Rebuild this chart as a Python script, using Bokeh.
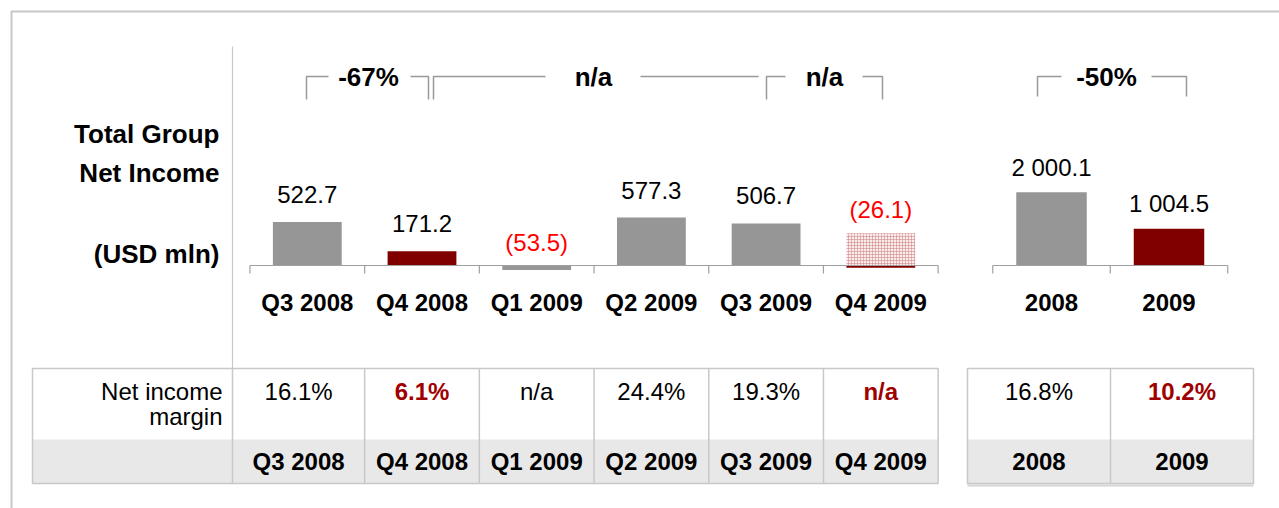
from bokeh.plotting import figure
from bokeh.models import Range1d
from bokeh.core.properties import value
from bokeh.embed import file_html
from bokeh.resources import INLINE

# ---------------- data ----------------
quarters = ["Q3 2008", "Q4 2008", "Q1 2009", "Q2 2009", "Q3 2009", "Q4 2009"]
net_income_q = [522.7, 171.2, -53.5, 577.3, 506.7, -26.1]
hatched_q = [0.0, 0.0, 0.0, 0.0, 0.0, 390.0]
highlight_q = [False, True, False, False, False, True]
margin_q = ["16.1%", "6.1%", "n/a", "24.4%", "19.3%", "n/a"]

years = ["2008", "2009"]
net_income_y = [2000.1, 1004.5]
highlight_y = [False, True]
margin_y = ["16.8%", "10.2%"]

change_labels = ["-67%", "n/a", "n/a", "-50%"]
title_lines = ["Total Group", "Net Income", "(USD mln)"]
row_label = ["Net income", "margin"]

# ---------------- styles ----------------
FONT = value("Liberation Sans")
GRAY = "#969696"
DARK_RED = "#800000"
RED = "#ff0000"
TBL_RED = "#a00000"
LINE = "#c8c8c8"
AXIS = "#a0a0a0"

W, H = 1279, 508
X0, Y0 = 0, 0

p = figure(width=W, height=H, x_range=Range1d(X0, X0 + W), y_range=Range1d(Y0 + H, Y0),
           output_backend="svg", toolbar_location=None, min_border=0,
           x_axis_location=None, y_axis_location=None, outline_line_color=None,
           background_fill_color="white", border_fill_color="white")
p.grid.visible = False

# scales for the two bar panels (screen px anchors)
Q_CX0, Q_DX, Q_BASE, Q_K = 306.8, 114.7, 265.0, 0.083
A_CX0, A_DX, A_BASE, A_K = 1051.0, 117.5, 265.0, 0.0366

p.extra_x_ranges = {
    "qx": Range1d((X0 - Q_CX0) / Q_DX, (X0 + W - Q_CX0) / Q_DX),
    "ax": Range1d((X0 - A_CX0) / A_DX, (X0 + W - A_CX0) / A_DX),
}
p.extra_y_ranges = {
    "qy": Range1d((Q_BASE - (Y0 + H)) / Q_K, (Q_BASE - Y0) / Q_K),
    "ay": Range1d((A_BASE - (Y0 + H)) / A_K, (A_BASE - Y0) / A_K),
}


def fmt(v):
    s = f"{abs(v):,.1f}".replace(",", " ")
    return f"({s})" if v < 0 else s


# ---------------- outer frame ----------------
p.line(x=[11, 11, 1290], y=[520, 11, 11], line_color=LINE, line_width=2)
p.segment(x0=[232], y0=[46], x1=[232], y1=[368], line_color=LINE, line_width=1.2)

# ---------------- titles ----------------
p.text(x=[219] * 3, y=[133, 172, 253], text=title_lines, text_font=FONT,
       text_font_style="bold", text_font_size="26px", text_align="right",
       text_baseline="middle", text_color="black")

# ---------------- quarterly bars ----------------
qi = list(range(len(quarters)))
q_colors = [DARK_RED if h else GRAY for h in highlight_q]
hi = [i for i in qi if hatched_q[i] > 0]
p.vbar(x=hi, top=[hatched_q[i] for i in hi], bottom=0, width=0.6,
       x_range_name="qx", y_range_name="qy", fill_color="#f9eded",
       hatch_pattern="cross", hatch_color="#cc7a7a", hatch_scale=3,
       hatch_weight=0.6, hatch_alpha=0.85, line_color=None)
p.vbar(x=qi, top=net_income_q, bottom=0, width=0.6, x_range_name="qx",
       y_range_name="qy", fill_color=q_colors, line_color=None)

pos = [i for i in qi if net_income_q[i] >= 0 and hatched_q[i] == 0]
neg = [i for i in qi if i not in pos]
p.text(x=pos, y=[net_income_q[i] for i in pos], text=[fmt(net_income_q[i]) for i in pos],
       x_range_name="qx", y_range_name="qy", y_offset=-27.5, text_font=FONT,
       text_font_size="24px", text_align="center", text_baseline="middle",
       text_color="black")
p.text(x=neg, y=[max(net_income_q[i], hatched_q[i], 0) for i in neg],
       text=[fmt(net_income_q[i]) for i in neg],
       x_range_name="qx", y_range_name="qy", y_offset=-23.5, text_font=FONT,
       text_font_size="24px", text_align="center", text_baseline="middle",
       text_color=[RED if net_income_q[i] < 0 else "black" for i in neg])
p.text(x=qi, y=[0] * len(qi), text=quarters, x_range_name="qx", y_range_name="qy",
       y_offset=37, text_font=FONT, text_font_style="bold", text_font_size="24px",
       text_align="center", text_baseline="middle", text_color="black")

# quarterly axis
qb = [Q_CX0 + (k - 0.5) * Q_DX for k in range(len(quarters) + 1)]
p.segment(x0=[qb[0]], y0=[Q_BASE], x1=[qb[-1]], y1=[Q_BASE], line_color=AXIS, line_width=1.2)
p.segment(x0=qb, y0=[Q_BASE] * len(qb), x1=qb, y1=[Q_BASE + 8] * len(qb),
          line_color=AXIS, line_width=1.2)

# ---------------- annual bars ----------------
ai = list(range(len(years)))
a_colors = [DARK_RED if h else GRAY for h in highlight_y]
p.vbar(x=ai, top=net_income_y, bottom=0, width=0.6, x_range_name="ax",
       y_range_name="ay", fill_color=a_colors, line_color=None)
p.text(x=ai, y=net_income_y, text=[fmt(v) for v in net_income_y], x_range_name="ax",
       y_range_name="ay", y_offset=-25, text_font=FONT, text_font_size="24px",
       text_align="center", text_baseline="middle", text_color="black")
p.text(x=ai, y=[0] * len(ai), text=years, x_range_name="ax", y_range_name="ay",
       y_offset=37, text_font=FONT, text_font_style="bold", text_font_size="24px",
       text_align="center", text_baseline="middle", text_color="black")
ab = [A_CX0 + (k - 0.5) * A_DX for k in range(len(years) + 1)]
p.segment(x0=[ab[0]], y0=[A_BASE], x1=[ab[-1]], y1=[A_BASE], line_color=AXIS, line_width=1.2)
p.segment(x0=ab, y0=[A_BASE] * len(ab), x1=ab, y1=[A_BASE + 8] * len(ab),
          line_color=AXIS, line_width=1.2)

# ---------------- change brackets ----------------
# (left x, right x, text x, gap left, gap right, draw left, draw right, bottom y)
brackets = [
    (306, 428, 368, 40, 42, True, True, 99),
    (433, 758, 593, 48, 47, True, False, 99),
    (766, 882, 824, 39, 38, True, True, 99),
    (1037, 1186, 1106, 45, 45, True, True, 96),
]
BY = 76
xs, ys = [], []
for (l, r, tx, gl, gr, dl, dr, by) in brackets:
    if dl:
        xs.append([l, l, tx - gl]); ys.append([by, BY, BY])
    else:
        xs.append([l, tx - gl]); ys.append([BY, BY])
    if dr:
        xs.append([tx + gr, r, r]); ys.append([BY, BY, by])
    else:
        xs.append([tx + gr, r]); ys.append([BY, BY])
p.multi_line(xs=xs, ys=ys, line_color="#999999", line_width=1.5)
p.text(x=[b[2] for b in brackets], y=[BY] * len(brackets), text=change_labels,
       text_font=FONT, text_font_style="bold", text_font_size="26px",
       text_align="center", text_baseline="middle", text_color="black")

# ---------------- tables ----------------
T_TOP, T_MID, T_BOT = 368, 439, 483
# left table
lt_cols = [32, 232] + qb[1:]
lt_left, lt_right = lt_cols[0], lt_cols[-1]
p.quad(left=[lt_left], right=[lt_right], top=[T_MID], bottom=[T_BOT],
       fill_color="#e8e8e8", line_color=None)
p.quad(left=[lt_left], right=[lt_right], top=[T_TOP], bottom=[T_BOT],
       fill_color=None, line_color=LINE, line_width=1.5)
p.segment(x0=lt_cols[1:-1], y0=[T_TOP] * (len(lt_cols) - 2), x1=lt_cols[1:-1],
          y1=[T_BOT] * (len(lt_cols) - 2), line_color=LINE, line_width=1.5)
lt_cx = [(lt_cols[k + 1] + lt_cols[k + 2]) / 2 for k in range(len(quarters))]

# right table
rt_cols = [967, 1110, 1253]
p.quad(left=[rt_cols[0]], right=[rt_cols[-1]], top=[T_MID], bottom=[T_BOT],
       fill_color="#e8e8e8", line_color=None)
p.quad(left=[rt_cols[0]], right=[rt_cols[-1]], top=[T_TOP], bottom=[T_BOT],
       fill_color=None, line_color=LINE, line_width=1.5)
p.segment(x0=[rt_cols[0]], y0=[T_BOT + 2], x1=[rt_cols[-1]], y1=[T_BOT + 2],
          line_color="#d4d4d4", line_width=2)
p.segment(x0=rt_cols[1:-1], y0=[T_TOP], x1=rt_cols[1:-1], y1=[T_BOT],
          line_color=LINE, line_width=1.5)
rt_cx = [(rt_cols[k] + rt_cols[k + 1]) / 2 for k in range(len(years))]

# table texts
p.text(x=[222, 222], y=[391, 416], text=row_label, text_font=FONT,
       text_font_size="24px", text_align="right", text_baseline="middle",
       text_color="black")

all_cx = lt_cx + rt_cx
all_margin = margin_q + margin_y
all_hl = highlight_q + highlight_y
all_lab = quarters + years
norm = [k for k in range(len(all_cx)) if not all_hl[k]]
bold = [k for k in range(len(all_cx)) if all_hl[k]]
p.text(x=[all_cx[k] for k in norm], y=[391] * len(norm), text=[all_margin[k] for k in norm],
       text_font=FONT, text_font_size="24px", text_align="center",
       text_baseline="middle", text_color="black")
p.text(x=[all_cx[k] for k in bold], y=[391] * len(bold), text=[all_margin[k] for k in bold],
       text_font=FONT, text_font_style="bold", text_font_size="24px",
       text_align="center", text_baseline="middle", text_color=TBL_RED)
p.text(x=all_cx, y=[461] * len(all_cx), text=all_lab, text_font=FONT,
       text_font_style="bold", text_font_size="24px", text_align="center",
       text_baseline="middle", text_color="black")

open("out.html", "w").write(file_html(p, INLINE))
